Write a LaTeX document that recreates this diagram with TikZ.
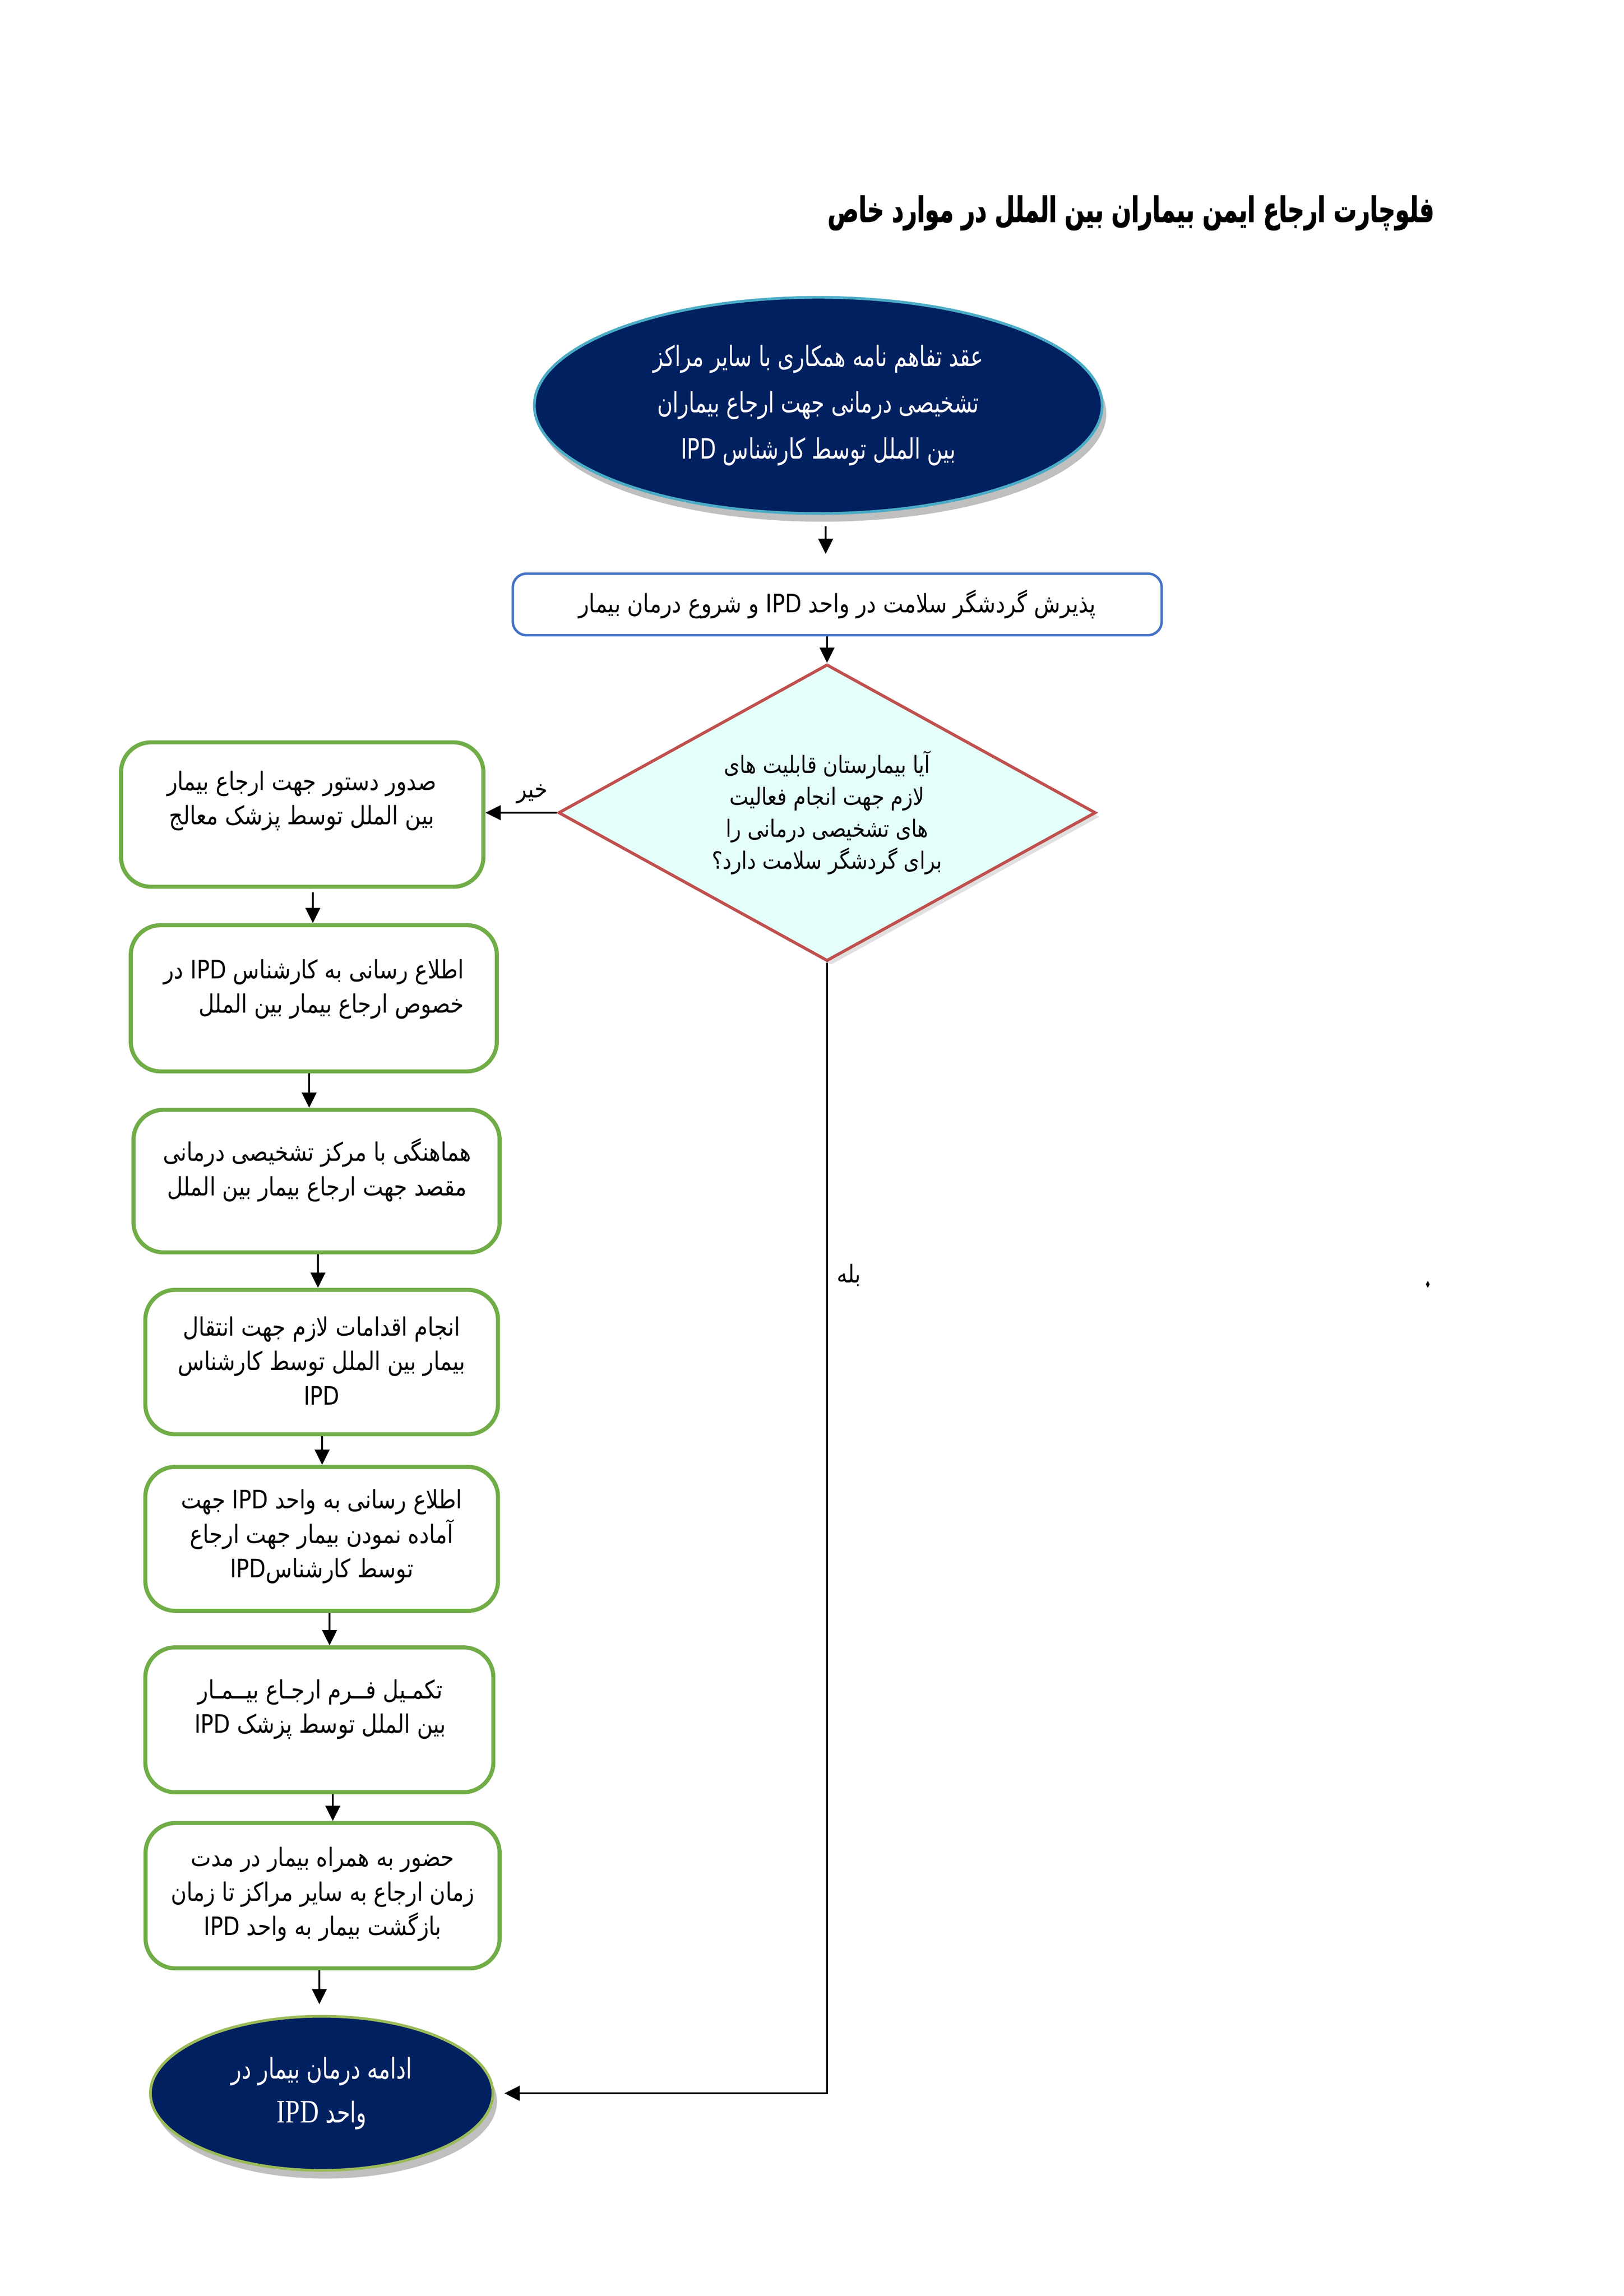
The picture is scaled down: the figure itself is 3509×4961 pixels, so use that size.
\documentclass[tikz,border=0pt]{standalone}
\usepackage{fontspec}
\TeXXeTstate=1
\newfontfamily\fa[Script=Arabic,FakeStretch=0.85]{DejaVu Sans}
\newfontfamily\fan[Script=Arabic,FakeStretch=0.75]{DejaVu Sans}
\newfontfamily\fat[Script=Arabic,FakeStretch=0.66,FakeBold=1.5]{DejaVu Sans Bold}
\newfontfamily\lserif[FakeStretch=0.8]{Liberation Serif}
\usetikzlibrary{shapes.geometric,shadows,arrows.meta,calc}
\newlength\upx \setlength\upx{0.16966pt}
\newcommand\myR[1]{\beginR #1\endR}
\newcommand\myL[1]{\beginL #1\endL{}}
\definecolor{navy}{HTML}{002060}
\definecolor{ellblue}{HTML}{4BACC6}
\definecolor{greenb}{HTML}{70AD47}
\definecolor{blueb}{HTML}{4472C4}
\definecolor{redb}{HTML}{C0504D}
\definecolor{cyanf}{HTML}{E4FFFA}
\definecolor{lgreen}{HTML}{9BBB59}
\tikzset{
  gbox/.style={draw=greenb, line width=1.5pt, rounded corners=11pt, fill=white, inner sep=0pt},
  gtxt/.style={font=\fa\fontsize{9.3}{12.6}\selectfont, align=center, inner sep=0pt},
  navyell/.style={ellipse, fill=navy, line width=1pt, inner sep=0pt, text=white,
    drop shadow={shadow xshift=1.5pt, shadow yshift=-3pt, opacity=0.25, fill=black}},
  arr/.style={line width=0.65pt, -{Triangle[length=5.6pt,width=5.4pt]}},
  lbl/.style={font=\fa\fontsize{9}{11}\selectfont, inner sep=0pt},
}
\begin{document}
\begin{tikzpicture}[x=\upx, y=-\upx]
\useasboundingbox (0,0) rectangle (3509,4961);
\fill[white] (0,0) rectangle (3509,4961);

% title
\node[font=\fat\fontsize{12.8}{15}\selectfont, anchor=east, inner sep=0pt] (title) at (3100,460)
  {\myR{فلوچارت ارجاع ایمن بیماران بین الملل در موارد خاص}};

% top ellipse
\node[navyell, draw=ellblue, minimum width=1227*\upx, minimum height=467*\upx,
  font=\fan\fontsize{10.3}{17}\selectfont, align=center] (e1) at (1768,876)
  {\myR{عقد تفاهم نامه همکاری با سایر مراکز}\\
   \myR{تشخیصی درمانی جهت ارجاع بیماران}\\
   \myR{بین الملل توسط کارشناس \myL{IPD}}};

% blue box
\node[draw=blueb, line width=0.9pt, rounded corners=5pt, fill=white, inner sep=0pt,
  minimum width=1402*\upx, minimum height=133*\upx, font=\fa\fontsize{9.3}{12}\selectfont] (b0) at (1809,1306)
  {\myR{پذیرش گردشگر سلامت در واحد \myL{IPD} و شروع درمان بیمار}};

% decision
\node[diamond, draw=redb, line width=1.1pt, fill=cyanf, inner sep=0pt,
  minimum width=1161*\upx, minimum height=641*\upx, shape aspect=1.81,
  drop shadow={shadow xshift=1.5pt, shadow yshift=-1.5pt, opacity=0.12, fill=black},
  font=\fa\fontsize{8.7}{11.7}\selectfont, align=center] (d) at (1787,1756)
  {\myR{آیا بیمارستان قابلیت های}\\
   \myR{لازم جهت انجام فعالیت}\\
   \myR{های تشخیصی درمانی را}\\
   \myR{برای گردشگر سلامت دارد؟}};

% green boxes
\node[gbox, minimum width=783*\upx, minimum height=312*\upx] (g1) at (653,1760) {};
\node[gtxt] (g1t) at (652,1730)
  {\myR{صدور دستور جهت ارجاع بیمار}\\ \myR{بین الملل توسط پزشک معالج}};

\node[gbox, minimum width=791*\upx, minimum height=316*\upx] (g2) at (678,2157) {};
\node[gtxt, align=right] (g2t) at (678,2137)
  {\myR{اطلاع رسانی به کارشناس \myL{IPD} در}\\ \myR{خصوص ارجاع بیمار بین الملل}};

\node[gbox, minimum width=791*\upx, minimum height=308*\upx] (g3) at (684,2552) {};
\node[gtxt] (g3t) at (685,2528)
  {\myR{هماهنگی با مرکز تشخیصی درمانی}\\ \myR{مقصد جهت ارجاع بیمار بین الملل}};

\node[gbox, minimum width=762*\upx, minimum height=312*\upx] (g4) at (695,2943) {};
\node[gtxt] (g4t) at (695,2940)
  {\myR{انجام اقدامات لازم جهت انتقال}\\ \myR{بیمار بین الملل توسط کارشناس}\\ \myL{IPD}};

\node[gbox, minimum width=762*\upx, minimum height=311*\upx] (g5) at (695,3325) {};
\node[gtxt] (g5t) at (695,3320)
  {\myR{اطلاع رسانی به واحد \myL{IPD} جهت}\\ \myR{آماده نمودن بیمار جهت ارجاع}\\ \myR{توسط کارشناس\myL{IPD}}};

\node[gbox, minimum width=752*\upx, minimum height=313*\upx] (g6) at (690,3716) {};
\node[gtxt] (g6t) at (692,3693)
  {\myR{تکمـیل فــرم ارجـاع بیــمـار}\\ \myR{بین الملل توسط پزشک \myL{IPD}}};

\node[gbox, minimum width=765*\upx, minimum height=314*\upx] (g7) at (697,4096) {};
\node[gtxt] (g7t) at (697,4093)
  {\myR{حضور به همراه بیمار در مدت}\\ \myR{زمان ارجاع به سایر مراکز تا زمان}\\ \myR{بازگشت بیمار به واحد \myL{IPD}}};

% end ellipse
\node[navyell, draw=lgreen, minimum width=740*\upx, minimum height=333*\upx,
  font=\fan\fontsize{10.5}{16}\selectfont, align=center] (e2) at (695,4523)
  {\myR{ادامه درمان بیمار در}\\ \myR{واحد \myL{\lserif\fontsize{12}{16}\selectfont IPD}}};

% labels
\node[lbl] (no) at (1150,1716) {\myR{خیر}};
\node[lbl] (yes) at (1834,2755) {\myR{بله}};
\node[diamond, fill=black, inner sep=0pt, minimum width=9*\upx, minimum height=16*\upx] (dot) at (3085,2775) {};

% connectors
\draw[arr, shorten <=25*\upx, shorten >=40*\upx] ([xshift=16*\upx]e1.south) -- ([xshift=16*\upx]e1.south |- b0.north);
\draw[arr] ([xshift=-22*\upx]b0.south) -- (d.north);
\draw[arr] (d.west) -- (d.west -| g1.east);
\draw[arr, shorten <=8*\upx] ([xshift=23*\upx]g1.south) -- ([xshift=-2*\upx]g2.north);
\draw[arr] ([xshift=-10*\upx]g2.south) -- ([xshift=-16*\upx]g3.north);
\draw[arr] ([xshift=3*\upx]g3.south) -- ([xshift=-8*\upx]g4.north);
\draw[arr] ([xshift=1*\upx]g4.south) -- ([xshift=1*\upx]g5.north);
\draw[arr] ([xshift=17*\upx]g5.south) -- ([xshift=22*\upx]g6.north);
\draw[arr] ([xshift=29*\upx]g6.south) -- ([xshift=22*\upx]g7.north);
\draw[arr, shorten >=23*\upx] ([xshift=-7*\upx]g7.south) -- ([xshift=-5*\upx]e2.north);
\draw[arr, shorten >=22*\upx] (d.south) -- (d.south |- e2.east) -- (e2.east);
\end{tikzpicture}
\end{document}
